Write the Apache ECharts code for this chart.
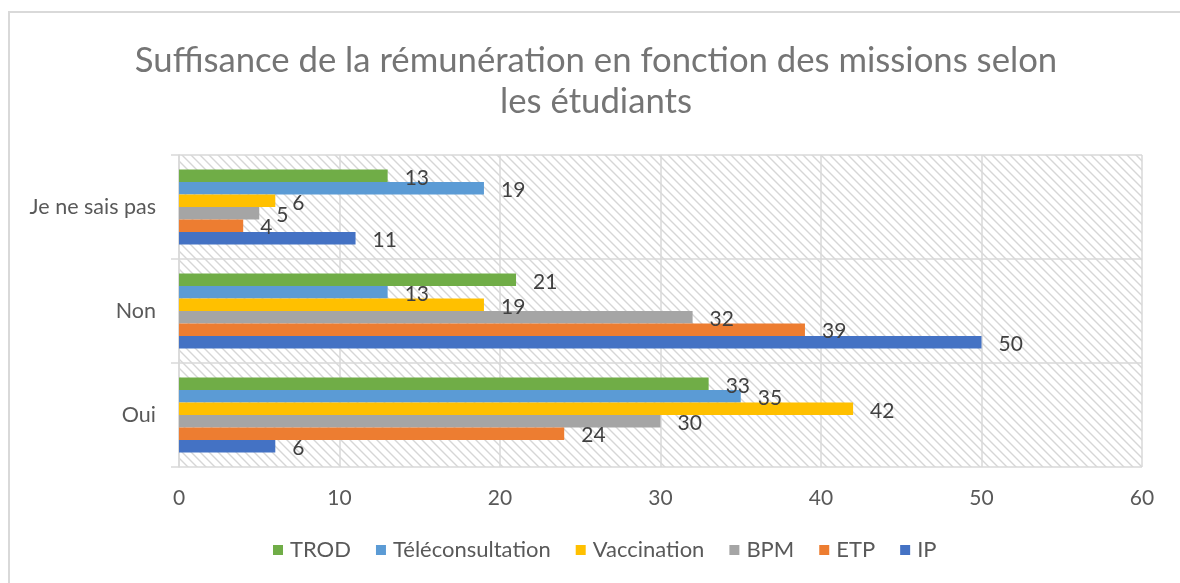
<!DOCTYPE html>
<html>
<head>
<meta charset="utf-8">
<script src="https://cdn.jsdelivr.net/npm/echarts@6/dist/echarts.min.js"></script>
<style>
html,body{margin:0;padding:0;background:#fff;}
#chart{width:1180px;height:583px;}
</style>
</head>
<body>
<div id="chart"></div>
<script>
const categories = ['Oui', 'Non', 'Je ne sais pas'];
const seriesNames = ['TROD', 'Téléconsultation', 'Vaccination', 'BPM', 'ETP', 'IP'];
const TROD = [33, 21, 13];
const Teleconsultation = [35, 13, 19];
const Vaccination = [42, 19, 6];
const BPM = [30, 32, 5];
const ETP = [24, 39, 4];
const IP = [6, 50, 11];
const xTicks = [0, 10, 20, 30, 40, 50, 60];
const legendOrder = ['TROD', 'Téléconsultation', 'Vaccination', 'BPM', 'ETP', 'IP'];
const colors = ['#70AD47', '#5B9BD5', '#FFC000', '#A5A5A5', '#ED7D31', '#4472C4'];
const values = [TROD, Teleconsultation, Vaccination, BPM, ETP, IP];

const FONT = 'Lato, "Open Sans", sans-serif';

// hatch pattern
const pc = document.createElement('canvas');
pc.width = 9; pc.height = 9;
const pctx = pc.getContext('2d');
pctx.fillStyle = '#ffffff';
pctx.fillRect(0, 0, 9, 9);
pctx.strokeStyle = '#d6d6d6';
pctx.lineWidth = 1.4;
pctx.beginPath();
pctx.moveTo(-2, -2); pctx.lineTo(11, 11);
pctx.moveTo(-11, -2); pctx.lineTo(2, 11);
pctx.moveTo(7, -2); pctx.lineTo(20, 11);
pctx.stroke();

const chart = echarts.init(document.getElementById('chart'), null, {renderer: 'canvas'});
chart.setOption({
  animation: false,
  backgroundColor: '#ffffff',
  title: {
    text: 'Suffisance de la rémunération en fonction des missions selon\nles étudiants',
    left: 591, top: 35, textAlign: 'center',
    textStyle: {fontFamily: FONT, fontWeight: 'normal', fontSize: 34.7, color: '#757575', lineHeight: 41}
  },
  graphic: [{
    type: 'rect', shape: {x: 9, y: 12, width: 1200, height: 600},
    style: {fill: 'none', stroke: '#d9d9d9', lineWidth: 2}, z: -1
  }],
  legend: {
    data: legendOrder, bottom: 17, left: 268,
    icon: 'rect', itemWidth: 10, itemHeight: 10, itemGap: 25,
    textStyle: {fontFamily: FONT, fontSize: 22, color: '#595959', padding: [0, 0, 0, 2]}
  },
  grid: {
    left: 179, right: 38, top: 155, bottom: 116,
    show: true, borderWidth: 0,
    backgroundColor: {image: pc, repeat: 'repeat'}
  },
  xAxis: {
    type: 'value', min: 0, max: 60, interval: 10,
    axisLine: {show: false}, axisTick: {show: false},
    axisLabel: {fontFamily: FONT, fontSize: 21, color: '#595959', margin: 21},
    splitLine: {lineStyle: {color: '#d9d9d9', width: 1.5}}
  },
  yAxis: {
    type: 'category', data: categories,
    axisLine: {lineStyle: {color: '#d9d9d9', width: 1.5}},
    axisTick: {show: true, length: 8, lineStyle: {color: '#d9d9d9', width: 1.5}},
    axisLabel: {fontFamily: FONT, fontSize: 21.5, color: '#595959', margin: 23},
    splitLine: {show: true, lineStyle: {color: '#d9d9d9', width: 1.5}}
  },
  series: seriesNames.map((n, i) => ({
    name: n, type: 'bar', data: values[i],
    barGap: '0%', barCategoryGap: '28%',
    itemStyle: {color: colors[i]},
    label: {show: true, position: 'right', distance: 17, offset: [0, 2],
      fontFamily: FONT, fontSize: 21, color: '#404040'}
  }))
});
</script>
</body>
</html>
